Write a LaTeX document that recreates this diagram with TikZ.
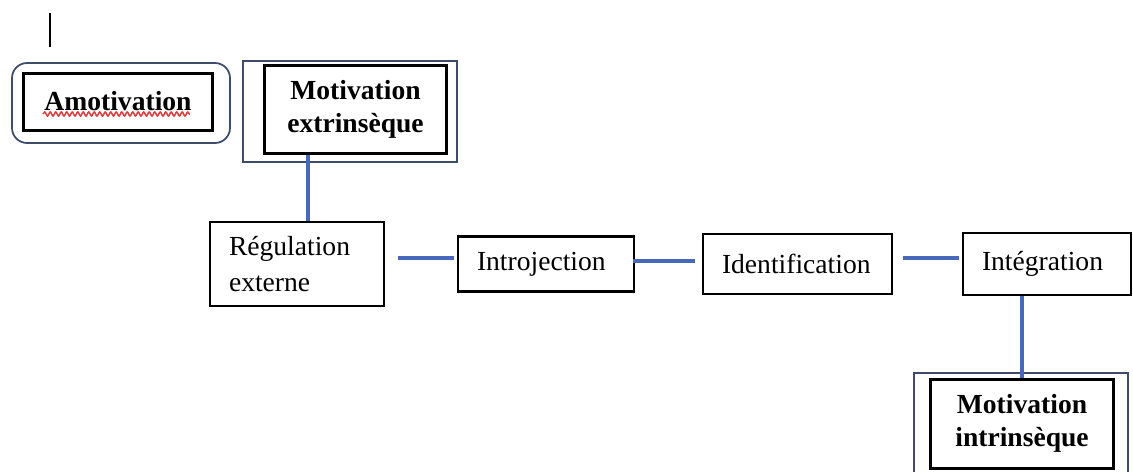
\documentclass[tikz,border=0pt]{standalone}
\usepackage{fontspec}
\setmainfont{Liberation Serif}
\usetikzlibrary{decorations.pathmorphing}
\definecolor{framegray}{RGB}{62,76,108}
\definecolor{linkblue}{RGB}{72,104,186}
\definecolor{spellred}{RGB}{222,60,60}
\begin{document}
\begin{tikzpicture}[x=0.02cm, y=-0.02cm,
    stagebox/.style={draw, line width=0.05cm, align=left, inner xsep=0.38cm, inner ysep=0pt,
      font=\fontsize{15.7}{20}\selectfont},
    typebox/.style={draw, line width=0.06cm, align=center, inner sep=0pt,
      font=\bfseries\fontsize{15.7}{19}\selectfont},
    outerframe/.style={draw=framegray, line width=0.035cm, inner sep=0pt},
    link/.style={draw=linkblue, line width=0.08cm},
    spellmark/.style={draw=spellred, line width=0.03cm, decorate,
      decoration={snake, amplitude=0.04cm, segment length=0.11cm}}]
    \useasboundingbox (0,0) rectangle (1133,471);

    % Drawing cursor mark
    \draw [line width=0.04cm] (50,13) -- (50,47);%

    % Drawing frames
    \node [outerframe, rounded corners=0.3cm, minimum width=4.36cm, minimum height=1.6cm] (amoframe) at (121,103) {};%
    \node [outerframe, minimum width=4.28cm, minimum height=2.02cm] (extframe) at (350,111.5) {};%
    \node [outerframe, minimum width=4.28cm, minimum height=2.16cm] (intframe) at (1021,427) {};%

    % Marking types
    \node [typebox, minimum width=3.8cm, minimum height=1.14cm] (amo) at (118,101.5) {Amotivation};%
    \node [typebox, minimum width=3.66cm, minimum height=1.78cm] (ext) at (355.5,109.5) {Motivation\\extrinsèque};%
    \node [typebox, minimum width=3.68cm, minimum height=1.78cm] (intr) at (1022,423.5) {Motivation\\intrinsèque};%

    % Drawing spelling mark under Amotivation
    \draw [spellmark] ([xshift=-1.5cm,yshift=-0.25cm]amo.center) -- ([xshift=1.44cm,yshift=-0.25cm]amo.center);%

    % Marking stages
    \node [stagebox, text width=2.72cm, minimum height=1.68cm] (reg) at (297,264) {Régulation\\externe};%
    \node [stagebox, text width=2.76cm, minimum height=1.1cm] (intro) at (546,264) {Introjection};%
    \node [stagebox, text width=3.02cm, minimum height=1.2cm] (ident) at (797.5,264) {Identification};%
    \node [stagebox, text width=2.6cm, minimum height=1.24cm] (integ) at (1047,264) {Intégration};%

    % Drawing links
    \draw [link] ([xshift=0.22cm]reg.north) -- ([xshift=0.22cm]reg.north |- ext.south);%
    \draw [link] ([xshift=0.26cm,yshift=0.12cm]reg.east) -- ([xshift=-0.06cm,yshift=0.12cm]intro.west);%
    \draw [link] ([xshift=-0.04cm,yshift=0.06cm]intro.east) -- ([xshift=-0.14cm,yshift=0.06cm]ident.west);%
    \draw [link] ([xshift=0.2cm,yshift=0.12cm]ident.east) -- ([xshift=-0.06cm,yshift=0.12cm]integ.west);%
    \draw [link] (intr.north) -- (intr.north |- integ.south);%
\end{tikzpicture}
\end{document}
